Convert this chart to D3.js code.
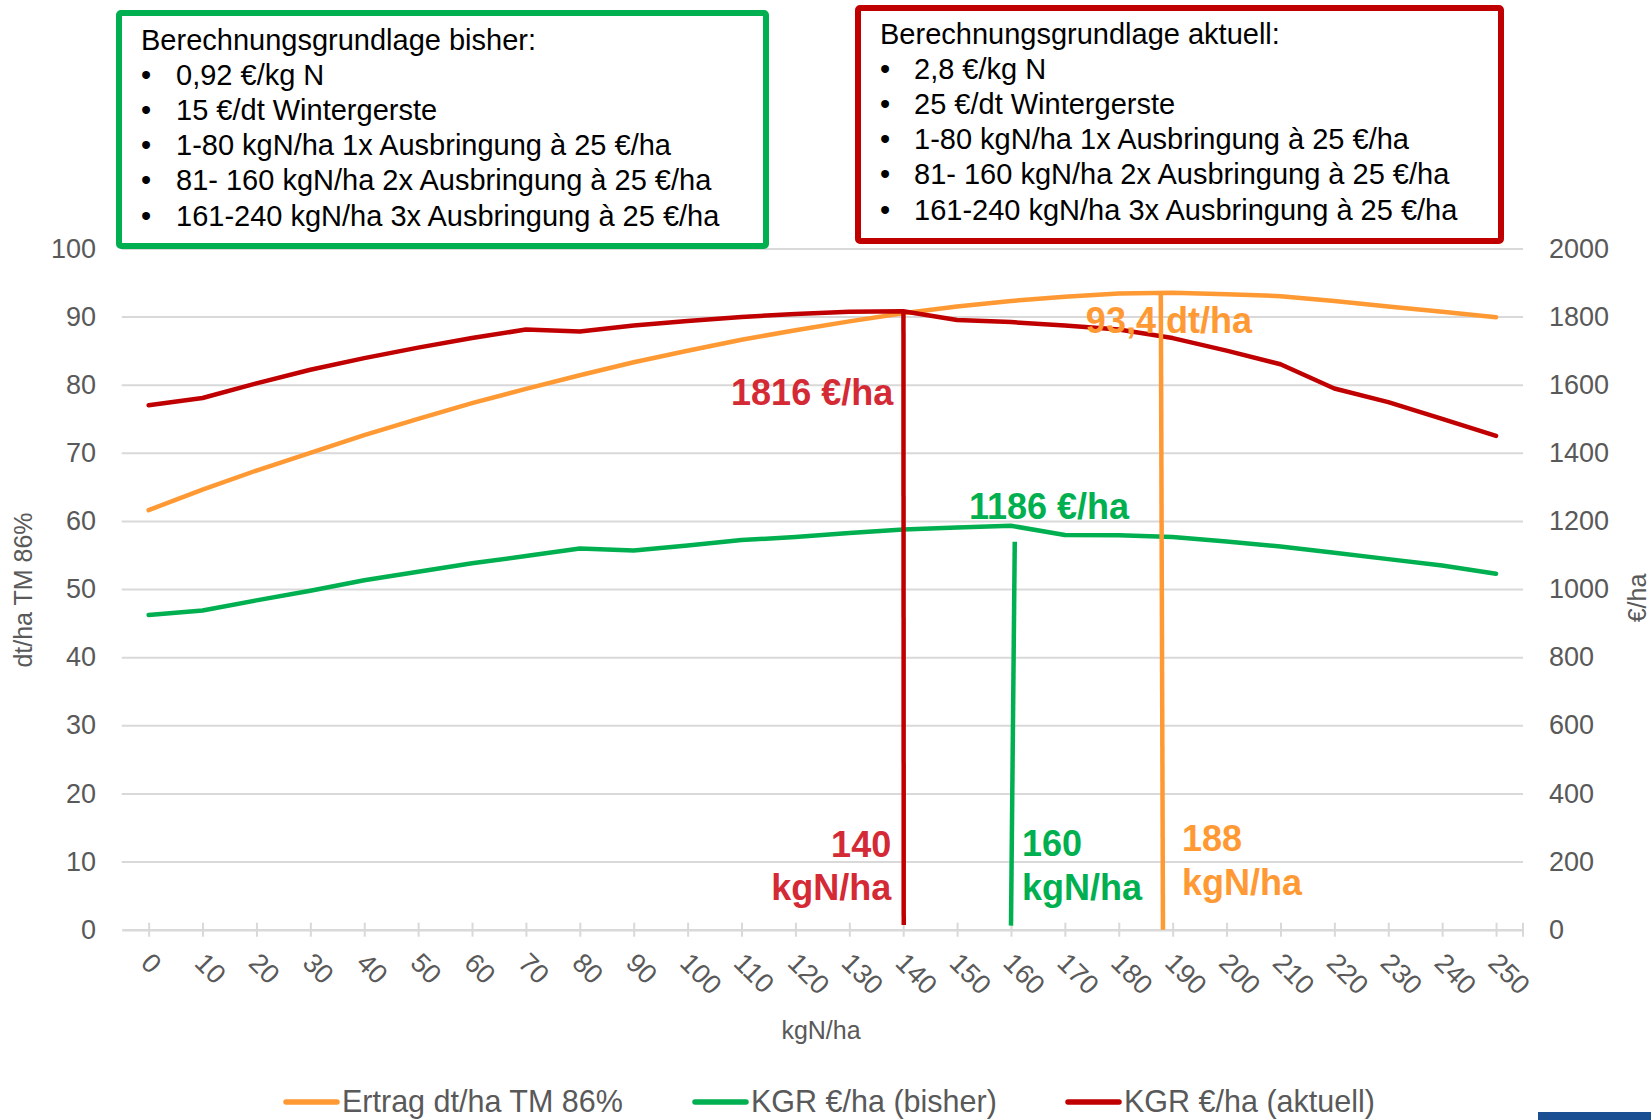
<!DOCTYPE html>
<html lang="de">
<head>
<meta charset="utf-8">
<script src="https://cdn.jsdelivr.net/npm/d3@7/dist/d3.min.js"></script>
<style>
  html, body { margin: 0; padding: 0; background: #ffffff; }
  svg { display: block; font-family: "Liberation Sans", Arial, Helvetica, sans-serif; }
</style>
</head>
<body>
<svg id="chart" width="1651" height="1120"></svg>
<script>
// N-Düngung in kgN/ha (Kategorien der x-Achse)
const nValues = [0, 10, 20, 30, 40, 50, 60, 70, 80, 90, 100, 110, 120, 130, 140, 150, 160, 170, 180, 190, 200, 210, 220, 230, 240, 250];

// Ertrag dt/ha TM 86% (linke Achse)
const ertrag = [61.6, 64.6, 67.4, 70.0, 72.6, 75.0, 77.3, 79.4, 81.4, 83.3, 85.0, 86.6, 88.0, 89.3, 90.5, 91.5, 92.3, 92.9, 93.4, 93.5, 93.3, 93.0, 92.3, 91.5, 90.7, 89.9];

// Kostenfreie Grundrente €/ha, bisherige Preise (rechte Achse)
const kgrBisher = [924, 937, 967, 995, 1026, 1051, 1076, 1097, 1119, 1113, 1128, 1144, 1153, 1165, 1175, 1181, 1186, 1159, 1158, 1153, 1140, 1125, 1107, 1088, 1069, 1045];

// Kostenfreie Grundrente €/ha, aktuelle Preise (rechte Achse)
const kgrAktuell = [1540, 1561, 1604, 1644, 1678, 1709, 1737, 1762, 1756, 1774, 1787, 1799, 1808, 1814, 1816, 1790, 1784, 1774, 1762, 1737, 1700, 1660, 1589, 1549, 1500, 1450];

// Achsenbeschriftungen
const leftTicks = [0, 10, 20, 30, 40, 50, 60, 70, 80, 90, 100];
const rightTicks = [0, 200, 400, 600, 800, 1000, 1200, 1400, 1600, 1800, 2000];

// Optimum-Markierungen: N oben/unten, Wert oben/unten, Achse
const optNames = ["aktuell", "bisher", "ertrag"];
const optNTop = [140.05, 160.7, 187.8];
const optNBottom = [140.1, 160.0, 188.2];
const optValueTop = [1816, 1139, 93.4];
const optValueBottom = [14, 12, 0];
const optAxis = ["right", "right", "left"];

// Legendentexte
const seriesNames = ["Ertrag dt/ha TM 86%", "KGR €/ha (bisher)", "KGR €/ha (aktuell)"];

// Berechnungsgrundlagen
const basisBisher = ["0,92 €/kg N", "15 €/dt Wintergerste", "1-80 kgN/ha 1x Ausbringung à 25 €/ha", "81- 160 kgN/ha 2x Ausbringung à 25 €/ha", "161-240 kgN/ha 3x Ausbringung à 25 €/ha"];
const basisAktuell = ["2,8 €/kg N", "25 €/dt Wintergerste", "1-80 kgN/ha 1x Ausbringung à 25 €/ha", "81- 160 kgN/ha 2x Ausbringung à 25 €/ha", "161-240 kgN/ha 3x Ausbringung à 25 €/ha"];

const C_ORANGE = "#FF9933";
const C_GREEN = "#00B050";
const C_RED = "#C00000";
const C_RED_TEXT = "#D42A35";
const C_AXIS = "#595959";
const C_GRID = "#D9D9D9";

const svg = d3.select("#chart");

const plotLeft = 121.7, plotRight = 1523, plotTop = 248.5, plotBottom = 929.7;

const x = d3.scaleLinear().domain([-5, 255]).range([plotLeft, plotRight]);
const yL = d3.scaleLinear().domain([0, 100]).range([plotBottom, plotTop]);
const yR = d3.scaleLinear().domain([0, 2000]).range([plotBottom, plotTop]);

const fmt = d3.format("d");

// Gitterlinien
svg.append("g")
  .attr("transform", `translate(${plotLeft},0)`)
  .call(d3.axisRight(yL).tickValues(leftTicks.filter(d => d > 0)).tickSize(plotRight - plotLeft).tickFormat(""))
  .call(g => g.select(".domain").remove())
  .call(g => g.selectAll("line").attr("stroke", C_GRID).attr("stroke-width", 2));

// linke Achse
svg.append("g")
  .attr("transform", "translate(96,0)")
  .call(d3.axisLeft(yL).tickValues(leftTicks).tickSize(0).tickPadding(0).tickFormat(fmt))
  .call(g => g.select(".domain").remove())
  .call(g => g.selectAll("text").attr("fill", C_AXIS).attr("font-size", 27).attr("font-family", "Liberation Sans, Arial, sans-serif"));

// rechte Achse
svg.append("g")
  .attr("transform", "translate(1549,0)")
  .call(d3.axisRight(yR).tickValues(rightTicks).tickSize(0).tickPadding(0).tickFormat(fmt))
  .call(g => g.select(".domain").remove())
  .call(g => g.selectAll("text").attr("fill", C_AXIS).attr("font-size", 27).attr("font-family", "Liberation Sans, Arial, sans-serif"));

// x-Achse
const xAxisG = svg.append("g")
  .attr("transform", `translate(0,${plotBottom})`)
  .call(d3.axisBottom(x).tickValues(nValues).tickSize(7).tickSizeOuter(0).tickFormat(fmt));
xAxisG.select(".domain").attr("stroke", C_GRID).attr("stroke-width", 2.5);
xAxisG.selectAll(".tick line").attr("stroke", C_GRID).attr("stroke-width", 2).attr("y1", -7).attr("y2", 7);
xAxisG.append("line")
  .attr("x1", x.range()[1]).attr("x2", x.range()[1])
  .attr("y1", -7).attr("y2", 7)
  .attr("stroke", C_GRID).attr("stroke-width", 2);
xAxisG.selectAll(".tick text")
  .attr("fill", C_AXIS)
  .attr("font-size", 27)
  .attr("font-family", "Liberation Sans, Arial, sans-serif")
  .attr("text-anchor", "start")
  .attr("x", 0).attr("y", 0).attr("dy", "0.35em")
  .attr("transform", "translate(-3,28) rotate(45)");

// Achsentitel
svg.append("text")
  .attr("x", 821).attr("y", 1039)
  .attr("text-anchor", "middle")
  .attr("fill", C_AXIS).attr("font-size", 25)
  .text("kgN/ha");

svg.append("text")
  .attr("transform", "translate(32,590) rotate(-90)")
  .attr("text-anchor", "middle")
  .attr("fill", C_AXIS).attr("font-size", 25)
  .text("dt/ha TM 86%");

svg.append("text")
  .attr("transform", "translate(1646,598) rotate(-90)")
  .attr("text-anchor", "middle")
  .attr("fill", C_AXIS).attr("font-size", 25)
  .text("€/ha");

// Linien
const lineL = d3.line().x((d, i) => x(nValues[i])).y(d => yL(d));
const lineR = d3.line().x((d, i) => x(nValues[i])).y(d => yR(d));

const seriesG = svg.append("g").attr("fill", "none").attr("stroke-width", 4.5).attr("stroke-linejoin", "round").attr("stroke-linecap", "round");
seriesG.append("path").attr("d", lineL(ertrag)).attr("stroke", C_ORANGE);
seriesG.append("path").attr("d", lineR(kgrBisher)).attr("stroke", C_GREEN);
seriesG.append("path").attr("d", lineR(kgrAktuell)).attr("stroke", C_RED);

// Optimum-Markierungen
const optColors = [C_RED, C_GREEN, C_ORANGE];
optNames.forEach((name, i) => {
  const ys = optAxis[i] === "left" ? yL : yR;
  svg.append("line")
    .attr("class", "opt-" + name)
    .attr("x1", x(optNTop[i])).attr("y1", ys(optValueTop[i]))
    .attr("x2", x(optNBottom[i])).attr("y2", ys(optValueBottom[i]))
    .attr("stroke", optColors[i]).attr("stroke-width", 4.5);
});

// Werte-Beschriftungen
const lab = svg.append("g").attr("font-weight", "bold").attr("font-size", 36);

lab.append("text").attr("x", x(140) - 10).attr("y", 405).attr("text-anchor", "end").attr("fill", C_RED_TEXT).text("1816 €/ha");
lab.append("text").attr("x", x(188) + 7).attr("y", 333).attr("text-anchor", "middle").attr("fill", C_ORANGE).text("93,4 dt/ha");
lab.append("text").attr("x", x(160) + 38).attr("y", 519).attr("text-anchor", "middle").attr("fill", C_GREEN).text("1186 €/ha");

lab.append("text").attr("x", x(140) - 12).attr("y", 857).attr("text-anchor", "end").attr("fill", C_RED_TEXT).text("140");
lab.append("text").attr("x", x(140) - 12).attr("y", 900).attr("text-anchor", "end").attr("fill", C_RED_TEXT).text("kgN/ha");
lab.append("text").attr("x", x(160) + 11).attr("y", 856).attr("text-anchor", "start").attr("fill", C_GREEN).text("160");
lab.append("text").attr("x", x(160) + 11).attr("y", 900).attr("text-anchor", "start").attr("fill", C_GREEN).text("kgN/ha");
lab.append("text").attr("x", x(188) + 20).attr("y", 851).attr("text-anchor", "start").attr("fill", C_ORANGE).text("188");
lab.append("text").attr("x", x(188) + 20).attr("y", 895).attr("text-anchor", "start").attr("fill", C_ORANGE).text("kgN/ha");

// Textboxen mit Berechnungsgrundlage
function infoBox(x0, y0, w, h, color, title, items, titleY, lineH, textX) {
  const g = svg.append("g");
  g.append("rect").attr("x", x0).attr("y", y0).attr("width", w).attr("height", h)
    .attr("fill", "#ffffff").attr("stroke", color).attr("stroke-width", 6).attr("rx", 2);
  g.append("text").attr("x", x0 + 22).attr("y", titleY).attr("font-size", 29).attr("fill", "#000000").text(title);
  items.forEach((t, i) => {
    const yy = titleY + lineH * (i + 1);
    g.append("text").attr("x", x0 + 22).attr("y", yy).attr("font-size", 29).attr("fill", "#000000").text("•");
    g.append("text").attr("x", textX).attr("y", yy).attr("font-size", 29).attr("fill", "#000000").text(t);
  });
}
infoBox(119, 13, 647, 233, C_GREEN, "Berechnungsgrundlage bisher:", basisBisher, 50, 35.1, 176);
infoBox(858, 8, 643, 233, C_RED, "Berechnungsgrundlage aktuell:", basisAktuell, 44, 35.1, 914);

// Legende
const legendX = [284, 693, 1066];
const legendColors = [C_ORANGE, C_GREEN, C_RED];
const legend = svg.append("g");
seriesNames.forEach((name, i) => {
  legend.append("line")
    .attr("x1", legendX[i] + 2).attr("x2", legendX[i] + 53)
    .attr("y1", 1102).attr("y2", 1102)
    .attr("stroke", legendColors[i]).attr("stroke-width", 5.5).attr("stroke-linecap", "round");
  legend.append("text")
    .attr("x", legendX[i] + 58).attr("y", 1112)
    .attr("font-size", 30.5).attr("fill", C_AXIS)
    .text(name);
});

// Logo-Balken unten rechts
svg.append("rect").attr("x", 1538).attr("y", 1112).attr("width", 113).attr("height", 8).attr("fill", "#1B4F93");
</script>
</body>
</html>
